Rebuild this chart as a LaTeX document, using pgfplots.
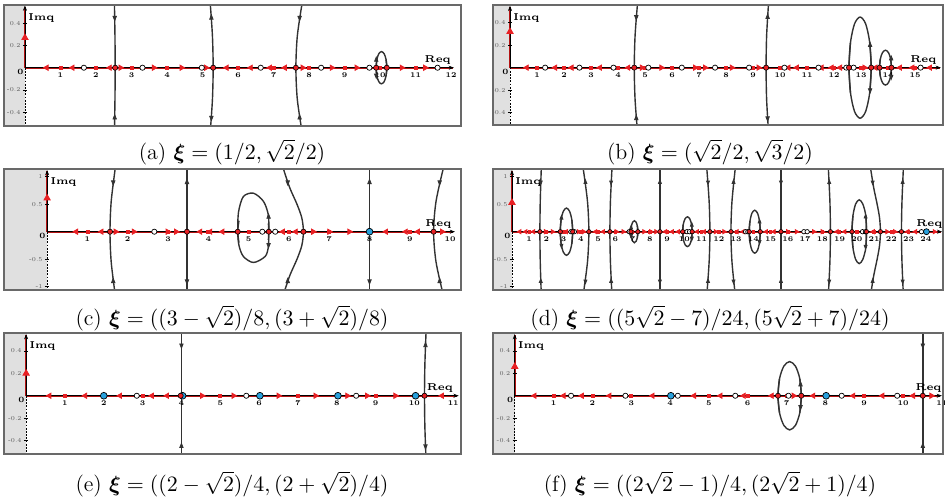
\documentclass[border=0pt]{standalone}
\usepackage{fontspec}
\usepackage{amsmath}
\usepackage{bm}
\usepackage{pgfplots}
\pgfplotsset{compat=1.18}
\usetikzlibrary{arrows.meta}

\definecolor{locred}{RGB}{232,32,36}
\definecolor{axred}{RGB}{180,20,20}
\definecolor{crvc}{RGB}{50,50,50}
\definecolor{bgg}{RGB}{224,224,224}
\definecolor{frmc}{RGB}{105,105,105}
\definecolor{bluept}{RGB}{40,160,220}

\tikzset{
  axarrow/.style={black, line width=0.3pt, -{Stealth[length=2.6pt,width=2pt]}},
  negax/.style={black, line width=0.4pt, dash pattern=on 0.9pt off 0.7pt},
  frmbox/.style={draw=frmc, line width=0.8pt},
  imq/.style={font=\fontsize{5}{6}\selectfont\bfseries, anchor=north west, inner sep=0pt, xshift=1.5pt, yshift=-4pt},
  req/.style={font=\fontsize{5}{6}\selectfont\bfseries, anchor=south east, inner sep=0pt, yshift=1.5pt},
  zero/.style={font=\fontsize{4}{5}\selectfont\bfseries, anchor=north east, inner sep=0.6pt},
  captxt/.style={font=\fontsize{11}{13}\selectfont},
}

\pgfplotsset{
  rl/.style={
    scale only axis, anchor=south west, axis on top,
    axis lines=middle, axis line style={draw=none},
    tick align=center, major tick length=2.2pt,
    xtick style={draw=none},
    ytick style={draw=black, line width=0.3pt},
    /pgf/number format/assume math mode=true,
    tick label style={fill=none},
    xticklabel style={font=\fontsize{3.6}{4}\selectfont\bfseries, inner sep=1pt},
    yticklabel style={font=\fontsize{3}{3.5}\selectfont, text=black!65, inner sep=1pt},
  },
  halfplane/.style={fill=bgg, draw=none},
  locus/.style={color=axred, line width=1.1pt},
  tk/.style={only marks, mark=square*, mark size=0.75pt, color=locred},
  crv/.style={color=crvc, line width=0.7pt, smooth},
  ltri/.style={only marks, color=locred, mark=triangle*, mark size=#1, mark options={rotate=90}},
  ltri/.default=1.5pt,
  rtri/.style={only marks, color=locred, mark=triangle*, mark size=#1, mark options={rotate=-90}},
  rtri/.default=1.5pt,
  ytri/.style={only marks, color=locred, mark=triangle*, mark size=1.8pt},
  uarr/.style={only marks, color=crvc, mark=triangle*, mark size=#1, mark options={xscale=0.7}},
  uarr/.default=1.4pt,
  darr/.style={only marks, color=crvc, mark=triangle*, mark size=#1, mark options={xscale=0.7, rotate=180}},
  darr/.default=1.4pt,
  rdot/.style={only marks, mark=*, mark size=#1, mark options={fill=locred, draw=black, line width=0.3pt}},
  rdot/.default=1.3pt,
  odot/.style={only marks, mark=*, mark size=#1, mark options={fill=white, draw=black, line width=0.35pt}},
  odot/.default=1.3pt,
  bdot/.style={only marks, mark=*, mark size=#1, mark options={fill=bluept, draw=black, line width=0.35pt}},
  bdot/.default=1.7pt,
}

\begin{document}
\begin{tikzpicture}
\path[use as bounding box] (0pt,0pt) rectangle (472.5pt,249.5pt);

% ---------------- (a)
\begin{axis}[rl, name=pa, at={(2pt,186.5pt)}, width=228.5pt, height=60.5pt,
  xmin=-0.59, xmax=12.28, ymin=-0.525, ymax=0.565,
  xtick={1,...,12}, ytick={-0.4,-0.2,0.2,0.4}]
\addplot[halfplane] coordinates {(-0.7,-0.6) (0,-0.6) (0,0.6) (-0.7,0.6)} -- cycle;
\addplot[locus] coordinates {(0,0) (12.05,0)};
\addplot[locus] coordinates {(0,0) (0,0.55)};
\draw[axarrow] (axis cs:0,0) -- (axis cs:12.08,0);
\draw[axarrow] (axis cs:0,0) -- (axis cs:0,0.56);
\draw[negax] (axis cs:0,0) -- (axis cs:0,-0.525);
\addplot[tk] coordinates {(1,0) (2,0) (3,0) (4,0) (5,0) (6,0) (7,0) (8,0) (9,0) (10,0) (11,0)};
\addplot[crv] coordinates {(2.52,0.57) (2.535,0.285) (2.54,0) (2.535,-0.285) (2.52,-0.57)};
\addplot[crv] coordinates {(5.22,0.57) (5.28,0.285) (5.3,0) (5.28,-0.285) (5.22,-0.57)};
\addplot[crv] coordinates {(7.8,0.57) (7.67,0.285) (7.63,0) (7.67,-0.285) (7.8,-0.57)};
\addplot[crv] coordinates {(9.91,-0.073) (9.89,0) (9.91,0.073) (9.965,0.126) (10.04,0.145) (10.115,0.126) (10.17,0.073) (10.19,0) (10.17,-0.073)};
\addplot[crv] coordinates {(9.91,0.073) (9.89,0) (9.91,-0.073) (9.965,-0.126) (10.04,-0.145) (10.115,-0.126) (10.17,-0.073) (10.19,0) (10.17,0.073)};
\addplot[uarr] coordinates {(2.528,-0.45) (5.25,0.45) (7.735,-0.45) (9.893,0.07)};
\addplot[darr] coordinates {(2.528,0.45) (5.25,-0.45) (7.735,0.45) (9.893,-0.07)};
\addplot[ltri] coordinates {(0.61,0) (1.34,0) (2.39,0) (5.68,0) (6.36,0) (6.9,0) (7.32,0)};
\addplot[rtri] coordinates {(2.69,0) (3.63,0) (4.41,0) (5.1,0) (7.82,0) (8.64,0) (9.34,0) (10.61,0) (11.27,0)};
\addplot[ytri] coordinates {(0,0.27)};
\addplot[odot] coordinates {(1.66,0) (3.31,0) (4.98,0) (6.64,0) (8.34,0) (9.7,0) (11.62,0)};
\addplot[rdot] coordinates {(2.54,0) (5.3,0) (7.63,0) (9.89,0) (10.19,0)};
\node[imq] at (axis cs:0,0.565) {Imq};
\node[req] at (axis cs:12.0,0) {Req};
\node[zero] at (axis cs:0,0) {0};
\end{axis}
\draw[frmbox] (pa.south west) rectangle (pa.north east);
\node[captxt] at (116pt,173.5pt) {(a) $\bm{\xi}=(1/2,\sqrt{2}/2)$};

% ---------------- (b)
\begin{axis}[rl, name=pb, at={(246.5pt,187pt)}, width=225pt, height=60pt,
  xmin=-0.63, xmax=16.03, ymin=-0.51, ymax=0.557,
  xtick={1,...,15}, ytick={-0.4,-0.2,0.2,0.4}]
\addplot[halfplane] coordinates {(-0.7,-0.6) (0,-0.6) (0,0.6) (-0.7,0.6)} -- cycle;
\addplot[locus] coordinates {(0,0) (15.9,0)};
\addplot[locus] coordinates {(0,0) (0,0.54)};
\draw[axarrow] (axis cs:0,0) -- (axis cs:15.95,0);
\draw[axarrow] (axis cs:0,0) -- (axis cs:0,0.55);
\draw[negax] (axis cs:0,0) -- (axis cs:0,-0.51);
\addplot[tk] coordinates {(1,0) (2,0) (3,0) (4,0) (5,0) (6,0) (7,0) (8,0) (9,0) (10,0) (11,0) (12,0) (13,0) (14,0) (15,0)};
\addplot[crv] coordinates {(4.72,0.57) (4.63,0.285) (4.6,0) (4.63,-0.285) (4.72,-0.57)};
\addplot[crv] coordinates {(9.57,0.57) (9.5,0.285) (9.48,0) (9.5,-0.285) (9.57,-0.57)};
\addplot[crv] coordinates {(13.315,-0.225) (13.37,0) (13.315,0.225) (13.165,0.39) (12.96,0.45) (12.755,0.39) (12.605,0.225) (12.55,0) (12.605,-0.225)};
\addplot[crv] coordinates {(13.315,0.225) (13.37,0) (13.315,-0.225) (13.165,-0.39) (12.96,-0.45) (12.755,-0.39) (12.605,-0.225) (12.55,0) (12.605,0.225)};
\addplot[crv] coordinates {(14.09,-0.078) (14.12,0) (14.09,0.078) (14.01,0.134) (13.9,0.155) (13.79,0.134) (13.71,0.078) (13.68,0) (13.71,-0.078)};
\addplot[crv] coordinates {(14.09,0.078) (14.12,0) (14.09,-0.078) (14.01,-0.134) (13.9,-0.155) (13.79,-0.134) (13.71,-0.078) (13.68,0) (13.71,0.078)};
\addplot[uarr] coordinates {(4.674,-0.45) (9.536,0.45) (13.33,0.2) (14.11,0.08)};
\addplot[darr] coordinates {(4.674,0.45) (9.536,-0.45) (13.33,-0.2) (14.11,-0.08)};
\addplot[ltri] coordinates {(0.62,0) (1.67,0) (2.28,0) (3.33,0) (4.38,0) (10.31,0) (10.62,0) (11.54,0) (11.91,0) (12.22,0) (13.53,0) (14.44,0) (14.9,0) (15.55,0)};
\addplot[rtri] coordinates {(4.88,0) (5.6,0) (6.85,0) (7.22,0) (8.21,0) (9.2,0) (13.12,0)};
\addplot[ytri] coordinates {(0,0.32)};
\addplot[odot] coordinates {(1.3,0) (2.57,0) (3.83,0) (5.12,0) (6.36,0) (7.59,0) (8.85,0) (10.16,0) (11.42,0) (12.45,0) (12.72,0) (15.2,0)};
\addplot[rdot] coordinates {(4.6,0) (9.48,0) (12.55,0) (13.37,0) (13.68,0) (14.12,0)};
\node[imq] at (axis cs:0,0.557) {Imq};
\node[req] at (axis cs:15.8,0) {Req};
\node[zero] at (axis cs:0,0) {0};
\end{axis}
\draw[frmbox] (pb.south west) rectangle (pb.north east);
\node[captxt] at (355pt,173.5pt) {(b) $\bm{\xi}=(\sqrt{2}/2,\sqrt{3}/2)$};

% ---------------- (c)
\begin{axis}[rl, name=pc, at={(2pt,104.5pt)}, width=228.5pt, height=60.5pt,
  xmin=-1.07, xmax=10.27, ymin=-1.06, ymax=1.14,
  xtick={1,...,10}, ytick={-1,-0.5,0.5,1}]
\addplot[halfplane] coordinates {(-1.2,-1.2) (0,-1.2) (0,1.2) (-1.2,1.2)} -- cycle;
\addplot[locus] coordinates {(0,0) (10.08,0)};
\addplot[locus] coordinates {(0,0) (0,1.1)};
\draw[axarrow] (axis cs:0,0) -- (axis cs:10.12,0);
\draw[axarrow] (axis cs:0,0) -- (axis cs:0,1.12);
\draw[negax] (axis cs:0,0) -- (axis cs:0,-1.06);
\addplot[tk] coordinates {(1,0) (2,0) (3,0) (4,0) (5,0) (6,0) (7,0) (8,0) (9,0)};
\addplot[crv] coordinates {(1.69,1.15) (1.59,0.55) (1.56,0) (1.59,-0.55) (1.69,-1.15)};
\addplot[crv] coordinates {(3.47,1.15) (3.47,0) (3.47,-1.15)};
\addplot[crv] coordinates {(5.86,1.15) (6.02,0.8) (6.2,0.5) (6.32,0.25) (6.36,0) (6.32,-0.25) (6.2,-0.5) (6.02,-0.8) (5.86,-1.15)};
\addplot[crv] coordinates {(8.0,1.15) (8.0,0) (8.0,-1.15)};
\addplot[crv] coordinates {(9.83,1.15) (9.65,0.55) (9.59,0) (9.65,-0.55) (9.83,-1.15)};
\addplot[crv] coordinates {(5.49,-0.15) (5.5,0) (5.49,0.3) (5.37,0.55) (5.12,0.7) (4.87,0.64) (4.75,0.36) (4.73,0) (4.76,-0.2)};
\addplot[crv] coordinates {(5.49,0.15) (5.5,0) (5.49,-0.27) (5.41,-0.45) (5.12,-0.56) (4.87,-0.45) (4.76,-0.25) (4.73,0) (4.76,0.2)};
\addplot[uarr] coordinates {(1.64,-0.9) (3.47,0.9) (5.97,-0.9) (8.0,0.9) (9.74,-0.9) (5.495,0.27)};
\addplot[darr] coordinates {(1.64,0.9) (3.47,-0.9) (5.97,0.9) (8.0,-0.9) (9.74,0.9) (5.495,-0.24)};
\addplot[ltri] coordinates {(0.72,0) (1.35,0) (3.8,0) (4.05,0) (4.35,0) (5.85,0) (6.17,0) (8.41,0) (8.9,0) (9.2,0)};
\addplot[rtri] coordinates {(1.7,0) (2.15,0) (2.99,0) (3.2,0) (6.6,0) (7.0,0) (7.5,0) (9.8,0)};
\addplot[ytri] coordinates {(0,0.61)};
\addplot[odot] coordinates {(2.66,0) (5.34,0) (5.66,0)};
\addplot[rdot] coordinates {(1.56,0) (3.47,0) (4.73,0) (5.5,0) (6.36,0) (9.59,0)};
\addplot[bdot] coordinates {(8.0,0)};
\node[imq] at (axis cs:0,1.14) {Imq};
\node[req] at (axis cs:10.04,0) {Req};
\node[zero] at (axis cs:0,0) {0};
\end{axis}
\draw[frmbox] (pc.south west) rectangle (pc.north east);
\node[captxt] at (116pt,90.5pt) {(c) $\bm{\xi}=((3-\sqrt{2})/8,(3+\sqrt{2})/8)$};

% ---------------- (d)
\begin{axis}[rl, name=pd, at={(246.5pt,104.5pt)}, width=225pt, height=60.5pt,
  xmin=-1.1, xmax=25.0, ymin=-1.06, ymax=1.14,
  xtick={1,...,24}, ytick={-1,-0.5,0.5,1}]
\addplot[halfplane] coordinates {(-1.2,-1.2) (0,-1.2) (0,1.2) (-1.2,1.2)} -- cycle;
\addplot[locus] coordinates {(0,0) (24.9,0)};
\addplot[locus] coordinates {(0,0) (0,1.1)};
\draw[axarrow] (axis cs:0,0) -- (axis cs:24.95,0);
\draw[axarrow] (axis cs:0,0) -- (axis cs:0,1.12);
\draw[negax] (axis cs:0,0) -- (axis cs:0,-1.06);
\addplot[tk, mark size=0.6pt] coordinates {(1,0) (2,0) (3,0) (4,0) (5,0) (6,0) (7,0) (8,0) (9,0) (10,0) (11,0) (12,0) (13,0) (14,0) (15,0) (16,0) (17,0) (18,0) (19,0) (20,0) (21,0) (22,0) (23,0) (24,0)};
\addplot[crv] coordinates {(1.7,1.15) (1.64,0.55) (1.62,0) (1.64,-0.55) (1.7,-1.15)};
\addplot[crv] coordinates {(4.13,1.15) (4.38,0.55) (4.46,0) (4.38,-0.55) (4.13,-1.15)};
\addplot[crv] coordinates {(5.8,1.15) (5.71,0.55) (5.68,0) (5.71,-0.55) (5.8,-1.15)};
\addplot[crv] coordinates {(8.58,1.15) (8.58,0) (8.58,-1.15)};
\addplot[crv] coordinates {(11.3,1.15) (11.435,0.55) (11.48,0) (11.435,-0.55) (11.3,-1.15)};
\addplot[crv] coordinates {(12.95,1.15) (12.76,0.55) (12.7,0) (12.76,-0.55) (12.95,-1.15)};
\addplot[crv] coordinates {(15.6,1.15) (15.6,0) (15.6,-1.15)};
\addplot[crv] coordinates {(18.35,1.15) (18.44,0.55) (18.47,0) (18.44,-0.55) (18.35,-1.15)};
\addplot[crv] coordinates {(20.8,1.15) (20.98,0.8) (21.18,0.5) (21.32,0.25) (21.37,0) (21.32,-0.25) (21.18,-0.5) (20.98,-0.8) (20.8,-1.15)};
\addplot[crv] coordinates {(22.7,1.15) (22.62,0.55) (22.59,0) (22.62,-0.55) (22.7,-1.15)};
\addplot[crv] coordinates {(2.848,-0.215) (2.8,0) (2.848,0.215) (2.98,0.372) (3.16,0.43) (3.34,0.372) (3.472,0.215) (3.52,0) (3.472,-0.215)};
\addplot[crv] coordinates {(2.848,0.215) (2.8,0) (2.848,-0.215) (2.98,-0.372) (3.16,-0.43) (3.34,-0.372) (3.472,-0.215) (3.52,0) (3.472,0.215)};
\addplot[crv] coordinates {(6.927,-0.1) (6.9,0) (6.927,0.1) (7.0,0.173) (7.1,0.2) (7.2,0.173) (7.273,0.1) (7.3,0) (7.273,-0.1)};
\addplot[crv] coordinates {(6.927,0.1) (6.9,0) (6.927,-0.1) (7.0,-0.173) (7.1,-0.2) (7.2,-0.173) (7.273,-0.1) (7.3,0) (7.273,0.1)};
\addplot[crv] coordinates {(10.413,-0.135) (10.45,0) (10.413,0.135) (10.313,0.234) (10.175,0.27) (10.038,0.234) (9.937,0.135) (9.9,0) (9.937,-0.135)};
\addplot[crv] coordinates {(10.413,0.135) (10.45,0) (10.413,-0.135) (10.313,-0.234) (10.175,-0.27) (10.038,-0.234) (9.937,-0.135) (9.9,0) (9.937,0.135)};
\addplot[crv] coordinates {(14.357,-0.195) (14.4,0) (14.357,0.195) (14.24,0.338) (14.08,0.39) (13.92,0.338) (13.803,0.195) (13.76,0) (13.803,-0.195)};
\addplot[crv] coordinates {(14.357,0.195) (14.4,0) (14.357,-0.195) (14.24,-0.338) (14.08,-0.39) (13.92,-0.338) (13.803,-0.195) (13.76,0) (13.803,0.195)};
\addplot[crv] coordinates {(20.524,-0.29) (20.56,0) (20.524,0.29) (20.35,0.502) (20.14,0.58) (19.93,0.502) (19.776,0.29) (19.72,0) (19.776,-0.29)};
\addplot[crv] coordinates {(20.524,0.29) (20.56,0) (20.524,-0.29) (20.35,-0.502) (20.14,-0.58) (19.93,-0.502) (19.776,-0.29) (19.72,0) (19.776,0.29)};
\addplot[uarr=1.2pt] coordinates {(1.67,-0.9) (4.26,0.9) (5.75,-0.9) (8.58,0.9) (11.37,-0.9) (12.85,0.9) (15.6,-0.9) (18.4,0.9) (20.92,-0.9) (22.66,0.9) (2.87,0.25) (6.91,0.07) (10.43,0.12) (14.36,0.18) (20.51,0.27)};
\addplot[darr=1.2pt] coordinates {(1.67,0.9) (4.26,-0.9) (5.75,0.9) (8.58,-0.9) (11.37,0.9) (12.85,-0.9) (15.6,0.9) (18.4,-0.9) (20.92,0.9) (22.66,-0.9) (2.87,-0.25) (6.91,-0.07) (10.43,-0.12) (14.36,-0.18) (20.51,-0.27)};
\addplot[ltri=1.2pt] coordinates {(0.45,0) (0.8,0) (1.25,0) (3.15,0) (4.85,0) (5.3,0) (8.9,0) (9.3,0) (9.65,0) (10.75,0) (11.15,0) (13.05,0) (13.4,0) (14.75,0) (15.2,0) (18.85,0) (19.3,0) (20.95,0) (22.95,0) (23.4,0)};
\addplot[rtri=1.2pt] coordinates {(1.95,0) (2.35,0) (3.85,0) (4.15,0) (6.05,0) (6.45,0) (7.65,0) (8.05,0) (8.35,0) (11.8,0) (12.3,0) (16.0,0) (16.5,0) (17.5,0) (18.0,0) (21.75,0) (22.2,0) (24.5,0)};
\addplot[ytri] coordinates {(0,0.53)};
\addplot[odot=1.1pt] coordinates {(3.42,0) (3.62,0) (6.8,0) (10.15,0) (10.3,0) (13.55,0) (13.68,0) (16.93,0) (17.12,0) (20.33,0) (20.5,0) (23.75,0)};
\addplot[rdot=1.1pt] coordinates {(1.62,0) (2.8,0) (3.52,0) (4.46,0) (5.68,0) (6.9,0) (7.3,0) (8.58,0) (9.9,0) (10.45,0) (11.48,0) (12.7,0) (13.76,0) (14.4,0) (15.6,0) (18.47,0) (19.72,0) (20.56,0) (21.37,0) (22.59,0)};
\addplot[bdot=1.5pt] coordinates {(24.04,0)};
\node[imq] at (axis cs:0,1.14) {Imq};
\node[req] at (axis cs:24.98,0) {Req};
\node[zero] at (axis cs:0,0) {0};
\end{axis}
\draw[frmbox] (pd.south west) rectangle (pd.north east);
\node[captxt] at (355pt,90.5pt) {(d) $\bm{\xi}=((5\sqrt{2}-7)/24,(5\sqrt{2}+7)/24)$};

% ---------------- (e)
\begin{axis}[rl, name=pe, at={(2pt,22.5pt)}, width=228.5pt, height=60.5pt,
  xmin=-0.57, xmax=11.2, ymin=-0.52, ymax=0.56,
  xtick={1,...,11}, ytick={-0.4,-0.2,0.2,0.4}]
\addplot[halfplane] coordinates {(-0.7,-0.6) (0,-0.6) (0,0.6) (-0.7,0.6)} -- cycle;
\addplot[locus] coordinates {(0,0) (11.1,0)};
\addplot[locus] coordinates {(0,0) (0,0.54)};
\draw[axarrow] (axis cs:0,0) -- (axis cs:11.14,0);
\draw[axarrow] (axis cs:0,0) -- (axis cs:0,0.55);
\draw[negax] (axis cs:0,0) -- (axis cs:0,-0.52);
\addplot[tk] coordinates {(1,0) (2,0) (3,0) (4,0) (5,0) (6,0) (7,0) (8,0) (9,0) (10,0)};
\addplot[crv] coordinates {(4.0,0.57) (4.0,0) (4.0,-0.57)};
\addplot[crv] coordinates {(10.3,0.57) (10.27,0.285) (10.26,0) (10.27,-0.285) (10.3,-0.57)};
\addplot[uarr] coordinates {(4.0,-0.45) (10.285,0.45)};
\addplot[darr] coordinates {(4.0,0.45) (10.285,-0.45)};
\addplot[ltri] coordinates {(0.6,0) (1.52,0) (2.42,0) (3.24,0) (3.63,0) (10.71,0)};
\addplot[rtri] coordinates {(4.53,0) (5.34,0) (6.5,0) (7.45,0) (8.27,0) (8.78,0) (9.51,0)};
\addplot[ytri] coordinates {(0,0.2)};
\addplot[odot] coordinates {(2.85,0) (5.67,0) (8.5,0)};
\addplot[bdot] coordinates {(2.0,0) (4.03,0) (6.02,0) (8.03,0) (10.03,0)};
\addplot[rdot] coordinates {(3.98,0) (10.26,0)};
\node[imq] at (axis cs:0,0.56) {Imq};
\node[req] at (axis cs:11.0,0) {Req};
\node[zero] at (axis cs:0,0) {0};
\end{axis}
\draw[frmbox] (pe.south west) rectangle (pe.north east);
\node[captxt] at (116pt,7.5pt) {(e) $\bm{\xi}=((2-\sqrt{2})/4,(2+\sqrt{2})/4)$};

% ---------------- (f)
\begin{axis}[rl, name=pf, at={(246.5pt,22.5pt)}, width=225pt, height=60.5pt,
  xmin=-0.56, xmax=11.03, ymin=-0.52, ymax=0.56,
  xtick={1,...,11}, ytick={-0.4,-0.2,0.2,0.4}]
\addplot[halfplane] coordinates {(-0.7,-0.6) (0,-0.6) (0,0.6) (-0.7,0.6)} -- cycle;
\addplot[locus] coordinates {(0,0) (10.95,0)};
\addplot[locus] coordinates {(0,0) (0,0.54)};
\draw[axarrow] (axis cs:0,0) -- (axis cs:11.0,0);
\draw[axarrow] (axis cs:0,0) -- (axis cs:0,0.55);
\draw[negax] (axis cs:0,0) -- (axis cs:0,-0.52);
\addplot[tk] coordinates {(1,0) (2,0) (3,0) (4,0) (5,0) (6,0) (7,0) (8,0) (9,0) (10,0)};
\addplot[crv] coordinates {(10.51,0.57) (10.51,0) (10.51,-0.57)};
\addplot[crv] coordinates {(7.34,-0.153) (7.38,0) (7.34,0.153) (7.23,0.264) (7.08,0.305) (6.93,0.264) (6.82,0.153) (6.78,0) (6.82,-0.153)};
\addplot[crv] coordinates {(7.34,0.153) (7.38,0) (7.34,-0.153) (7.23,-0.264) (7.08,-0.305) (6.93,-0.264) (6.82,-0.153) (6.78,0) (6.82,0.153)};
\addplot[uarr] coordinates {(10.51,-0.45) (7.36,0.1)};
\addplot[darr] coordinates {(10.51,0.45) (7.36,-0.1)};
\addplot[ltri] coordinates {(0.51,0) (1.26,0) (1.73,0) (2.44,0) (3.55,0) (4.62,0) (5.3,0) (5.9,0) (6.62,0) (7.69,0) (8.72,0) (9.47,0) (10.26,0)};
\addplot[rtri] coordinates {(7.18,0) (10.73,0)};
\addplot[ytri] coordinates {(0,0.26)};
\addplot[odot] coordinates {(1.45,0) (2.85,0) (4.2,0) (5.68,0) (7.05,0) (8.42,0) (9.85,0)};
\addplot[bdot] coordinates {(4.02,0) (8.02,0)};
\addplot[rdot] coordinates {(6.78,0) (7.38,0) (10.51,0)};
\node[imq] at (axis cs:0,0.56) {Imq};
\node[req] at (axis cs:11.0,0) {Req};
\node[zero] at (axis cs:0,0) {0};
\end{axis}
\draw[frmbox] (pf.south west) rectangle (pf.north east);
\node[captxt] at (355pt,7.5pt) {(f) $\bm{\xi}=((2\sqrt{2}-1)/4,(2\sqrt{2}+1)/4)$};
\end{tikzpicture}
\end{document}
